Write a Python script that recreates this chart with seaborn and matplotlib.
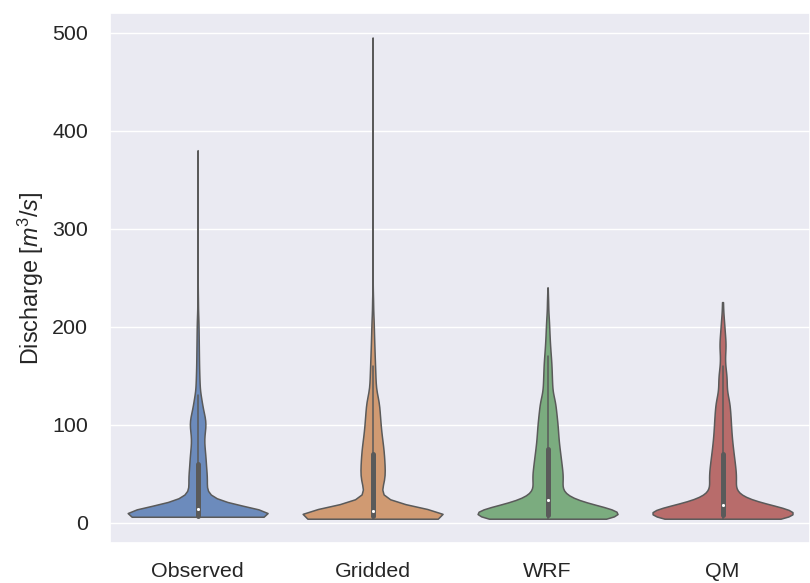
import numpy as np
import pandas as pd
import matplotlib.pyplot as plt
import seaborn as sns

# discharge classes [m3/s] shared by all sources, and number of days in each
flow_bins = [4, 5, 6, 7, 8, 10, 12, 14, 16, 18, 20, 23, 26, 30, 35, 40, 45, 50, 55,
             60, 65, 70, 75, 80, 85, 90, 95, 100, 105, 110, 115, 120, 125, 130,
             140, 150, 160, 170, 180, 190, 200, 210, 225, 240, 260, 280, 300, 330,
             380, 420, 460, 495]

observed_days = [0, 0, 1400, 1100, 900, 700, 500, 400, 220, 190, 160, 170, 140, 140, 150,
                 200, 185, 175, 165, 160, 155, 150, 140, 125, 115, 125, 150, 170, 165, 130,
                 100, 85, 80, 75, 80, 65, 55, 50, 45, 40, 35, 28, 18, 6, 3, 2, 1, 1,
                 1, 0, 0, 0]
gridded_days = [400, 800, 1000, 1100, 900, 500, 350, 150, 110, 90, 80, 90, 90, 110, 150,
                220, 225, 225, 220, 215, 210, 205, 200, 185, 175, 160, 150, 145, 140, 130,
                125, 120, 115, 110, 115, 100, 90, 75, 65, 52, 45, 36, 28, 8, 5, 3, 2, 2,
                1, 1, 1, 1]
wrf_days = [300, 500, 1000, 800, 800, 700, 500, 450, 400, 350, 250, 280, 230, 230, 240,
            320, 315, 300, 285, 275, 265, 250, 240, 225, 215, 210, 205, 200, 190, 175,
            165, 160, 150, 145, 190, 165, 160, 130, 100, 80, 65, 50, 35, 8, 0, 0, 0, 0,
            0, 0, 0, 0]
qm_days = [200, 400, 1000, 1000, 800, 700, 550, 500, 450, 330, 260, 250, 210, 210, 220,
           290, 280, 270, 260, 250, 235, 225, 210, 200, 190, 180, 175, 170, 165, 160,
           150, 145, 140, 130, 170, 175, 100, 90, 140, 105, 75, 50, 30, 0, 0, 0, 0, 0,
           0, 0, 0, 0]

sources = ["Observed", "Gridded", "WRF", "QM"]
days = [observed_days, gridded_days, wrf_days, qm_days]
colors = ["#6c8bbc", "#d09a72", "#7bac7f", "#b86c6b"]

frames = []
for name, counts in zip(sources, days):
    frames.append(pd.DataFrame({"source": name,
                                "discharge": np.repeat(flow_bins, counts).astype(float)}))
df = pd.concat(frames, ignore_index=True)

sns.set_theme(style="darkgrid")
plt.rcParams.update({
    "font.family": ["Liberation Sans", "DejaVu Sans"],
    "mathtext.fontset": "custom",
    "mathtext.rm": "Liberation Sans",
    "mathtext.it": "Liberation Sans:italic",
    "xtick.labelsize": 15.4,
    "ytick.labelsize": 15.4,
    "axes.labelsize": 16.8,
    "xtick.major.pad": 8,
    "ytick.major.pad": 10,
})

fig, ax = plt.subplots(figsize=(8.1, 5.83), dpi=100)
sns.violinplot(data=df, x="source", y="discharge", hue="source", palette=colors,
               saturation=1, cut=0, density_norm="width", linewidth=1.1,
               linecolor="#5a5a5a", legend=False, ax=ax,
               inner_kws=dict(box_width=3.6, whis_width=1.1, marker="."))
ax.set_xlabel("")
ax.set_ylabel("Discharge [$m^3/s$]")
fig.subplots_adjust(left=0.136, right=1.0, top=0.977, bottom=0.069)
fig.savefig("out.png", dpi=100)
plt.close(fig)
